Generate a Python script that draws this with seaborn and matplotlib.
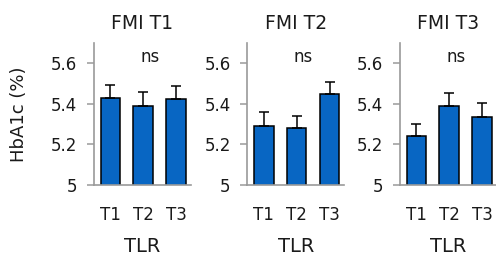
import matplotlib
matplotlib.use("Agg")
import matplotlib.pyplot as plt
import matplotlib.transforms as mtransforms
import seaborn as sns
import pandas as pd

# ---- data ----
categories = ["T1", "T2", "T3"]
panel_titles = ["FMI T1", "FMI T2", "FMI T3"]
means_t1 = [5.43, 5.39, 5.425]
means_t2 = [5.29, 5.28, 5.447]
means_t3 = [5.24, 5.39, 5.336]
sem_t1 = [0.065, 0.07, 0.065]
sem_t2 = [0.07, 0.06, 0.062]
sem_t3 = [0.062, 0.062, 0.066]
y_ticks = [5.0, 5.2, 5.4, 5.6]
y_tick_labels = ["5", "5.2", "5.4", "5.6"]
sig_labels = ["ns", "ns", "ns"]

sns.set_style("white")
plt.rcParams["font.family"] = ["DejaVu Sans"]

W, H = 496, 256
fig = plt.figure(figsize=(W / 100, H / 100), dpi=100)

bar_color = "#0866C3"
spine_color = "#9a9a9a"
text_color = "#1a1a1a"

lefts = [94, 247.3, 400]
ax_w = 97
ax_bottom = 71
ax_h = 142

all_means = [means_t1, means_t2, means_t3]
all_sems = [sem_t1, sem_t2, sem_t3]

for i in range(3):
    ax = fig.add_axes([lefts[i] / W, ax_bottom / H, ax_w / W, ax_h / H])
    df = pd.DataFrame({"TLR": categories, "HbA1c": all_means[i]})
    sns.barplot(data=df, x="TLR", y="HbA1c", ax=ax, color=bar_color,
                saturation=1, width=0.6, edgecolor="black", linewidth=1.1,
                errorbar=None)
    ax.errorbar(range(len(categories)), all_means[i],
                yerr=[[0] * 3, all_sems[i]], fmt="none", ecolor="black",
                elinewidth=1.1, capsize=3.3, capthick=1.1, zorder=1)
    ax.set_ylim(5.0, 5.7)
    ax.set_xlim(-0.5, 2.45)
    ax.set_yticks(y_ticks)
    ax.set_yticklabels(y_tick_labels)
    for s in ["top", "right"]:
        ax.spines[s].set_visible(False)
    for s in ["left", "bottom"]:
        ax.spines[s].set_color(spine_color)
        ax.spines[s].set_linewidth(1.2)
    ax.tick_params(axis="y", direction="out", length=5, width=1.1,
                   color=spine_color, pad=7, labelsize=12, labelcolor=text_color, left=True)
    ax.tick_params(axis="x", length=0, pad=15, labelsize=12, labelcolor=text_color)
    ax.set_title(panel_titles[i], fontsize=13.5, pad=10, color=text_color)
    trans = mtransforms.blended_transform_factory(ax.transAxes, ax.transData)
    ax.text(0.575, 5.632, sig_labels[i], transform=trans,
            ha="center", va="center", fontsize=12, color=text_color)
    ax.set_xlabel("TLR", fontsize=14, color=text_color)
    ax.xaxis.set_label_coords(0.5, -0.433)
    ax.xaxis.label.set_va("center")
    if i == 0:
        ax.set_ylabel("HbA1c (%)", fontsize=13, color=text_color)
        ax.yaxis.set_label_coords(-(94 - 19) / ax_w, 0.5)
        ax.yaxis.label.set_va("center")
    else:
        ax.set_ylabel("")

fig.savefig("out.png", dpi=100)
